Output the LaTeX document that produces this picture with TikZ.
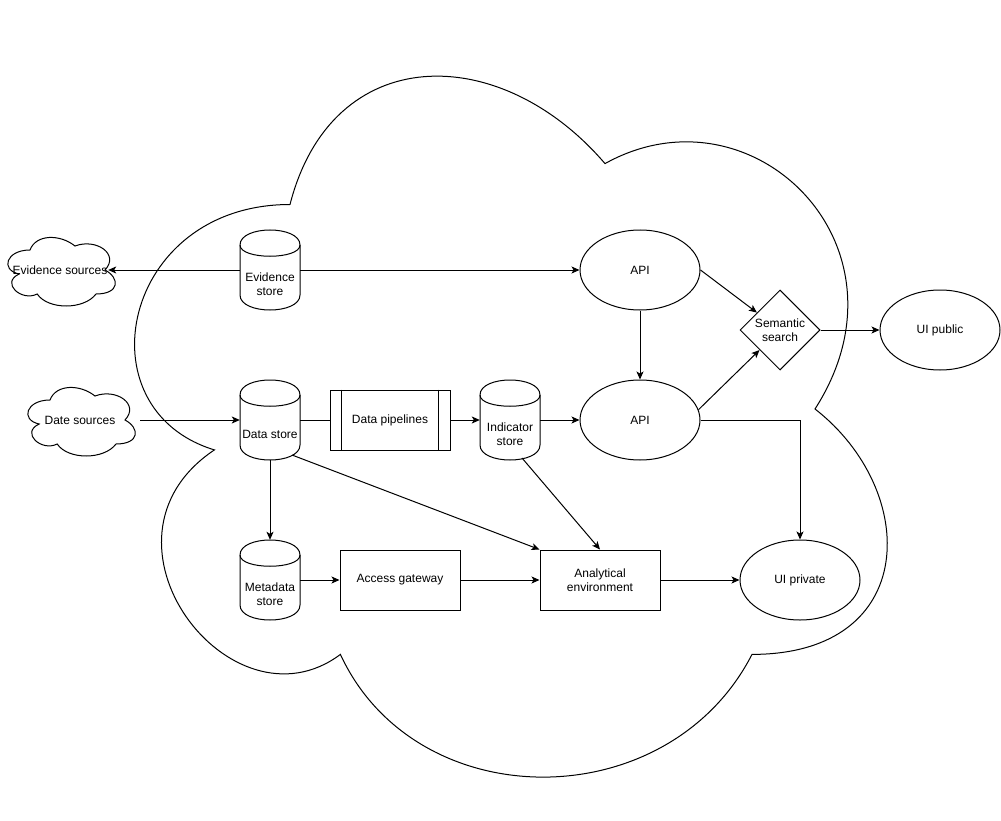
\documentclass[tikz,border=0pt]{standalone}
\usepackage{fontspec}
\setmainfont{Liberation Sans}
\usetikzlibrary{arrows.meta,shapes.geometric}
\tikzset{
  shapeline/.style={draw=black,line width=1pt,fill=white},
  plain/.style={draw=black,line width=1pt},
  conn/.style={draw=black,line width=1pt,-{Stealth[length=8pt,width=7pt,inset=2pt]}},
  txt/.style={font=\fontsize{12}{14}\selectfont,inner sep=0pt,align=center},
  cylbox/.style={rectangle,minimum width=60pt,minimum height=80pt,inner sep=0pt},
  boxnode/.style={shapeline,rectangle,minimum width=120pt,minimum height=60pt,inner sep=0pt,txt},
  ellnode/.style={shapeline,ellipse,minimum width=120pt,minimum height=80pt,inner sep=0pt,txt},
}
\newcommand{\cloudoutline}[4]{%
  \draw[shapeline,shift={(#1,#2)},xscale=#3,yscale=#4]
    (25,25) .. controls (5,25) and (0,50) .. (16,55)
    .. controls (0,66) and (18,90) .. (31,80)
    .. controls (40,100) and (70,100) .. (80,80)
    .. controls (100,80) and (100,60) .. (87.5,50)
    .. controls (100,30) and (80,10) .. (62.5,20)
    .. controls (50,5) and (30,5) .. (25,25) -- cycle;}
\newcommand{\dbcyl}[4]{%
  \node[cylbox] (#1) at (#2,#3) {};
  \begin{scope}[shift={(#2,#3)}]
    \draw[shapeline] (-30,-25) .. controls (-30,-45) and (30,-45) .. (30,-25)
      -- (30,25) .. controls (30,45) and (-30,45) .. (-30,25) -- cycle;
    \draw[plain] (-30,-25) .. controls (-30,-10) and (30,-10) .. (30,-25);
    \node[txt] (#1-label) at (0,14) {#4};
  \end{scope}}
\begin{document}
\begin{tikzpicture}[x=1pt,y=-1pt]
\useasboundingbox (0,0) rectangle (1001,821);
\fill[white] (0,0) rectangle (1001,821);

% big cloud and small clouds
\cloudoutline{80}{0}{8.4}{8.18}
\cloudoutline{0}{230}{1.2}{0.8}
\cloudoutline{20}{380}{1.2}{0.8}
\node[txt,minimum width=96pt,minimum height=60pt] (esrc) at (60,270) {Evidence sources};
\node[txt,minimum width=120pt,minimum height=60pt] (dsrc) at (80,420) {Date sources};

% cylinders
\dbcyl{es}{270}{270}{Evidence\\store}
\dbcyl{ds}{270}{420}{Data store}
\dbcyl{md}{270}{580}{Metadata\\store}
\dbcyl{is}{510}{420}{Indicator\\store}

% boxes
\node[boxnode] (dp) at (390,420) {Data pipelines};
\draw[plain] ([xshift=12pt]dp.north west) -- ([xshift=12pt]dp.south west);
\draw[plain] ([xshift=-12pt]dp.north east) -- ([xshift=-12pt]dp.south east);
\node[boxnode] (ag) at (400,580) {Access gateway};
\node[boxnode] (ae) at (600,580) {Analytical\\environment};

% ellipses
\node[ellnode] (at) at (640,270) {API};
\node[ellnode] (ab) at (640,420) {API};
\node[ellnode] (uipub) at (940,330) {UI public};
\node[ellnode] (uipriv) at (800,580) {UI private};

% diamond
\node[shapeline,diamond,aspect=1,minimum width=80pt,minimum height=80pt,inner sep=0pt] (ss) at (780,330) {};
\node[txt] (ss-label) at (ss) {Semantic\\search};

% connectors
\draw[conn] (es) -- (esrc);
\draw[conn] (es) -- (at);
\draw[conn] (dsrc) -- (ds);
\draw[plain] (ds) -- (dp);
\draw[conn] (dp) -- (is);
\draw[conn] (is) -- (ab);
\draw[conn] (at) -- (ab);
\draw[conn] (at.east) -- (ss);
\draw[conn] (ab.10) -- (ss);
\draw[conn] (ss) -- (uipub);
\draw[conn] (ab.east) -| (uipriv.north);
\draw[conn] (ds) -- (md);
\draw[conn] ([shift={(22,35)}]ds.center) -- (ae.north west);
\draw[conn] ([shift={(12,38)}]is.center) -- (ae.north);
\draw[conn] (md) -- (ag);
\draw[conn] (ag) -- (ae);
\draw[conn] (ae) -- (uipriv);
\end{tikzpicture}
\end{document}
